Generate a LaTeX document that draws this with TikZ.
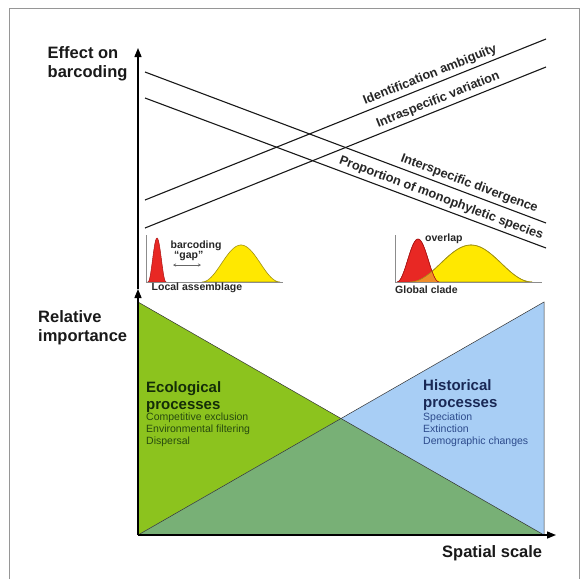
\documentclass[tikz,border=0pt]{standalone}
\usepackage{fontspec}
\setmainfont{Liberation Sans}
\usetikzlibrary{arrows.meta,positioning}
\definecolor{ecogreen}{RGB}{140,195,30}
\definecolor{histblue}{RGB}{168,206,245}
\definecolor{mixgreen}{RGB}{120,176,118}
\definecolor{ecotext}{RGB}{20,45,8}
\definecolor{ecosubtext}{RGB}{40,75,15}
\definecolor{histtext}{RGB}{25,40,85}
\definecolor{histsubtext}{RGB}{45,75,140}
\definecolor{peakred}{RGB}{232,40,36}
\definecolor{peakredline}{RGB}{170,20,20}
\definecolor{bumpyellow}{RGB}{255,232,0}
\definecolor{bumpline}{RGB}{160,145,20}
\definecolor{overorange}{RGB}{240,140,40}
\definecolor{framegray}{RGB}{150,150,150}
% cosine bump: centre, half width, height, baseline
\newcommand{\bellpath}[4]{plot[domain=#1-#2:#1+#2,samples=60]
  (\x,{#4-#3*(1+cos(180*(\x-#1)/#2))/2})}
\tikzset{
  >={Triangle[length=9pt,width=7pt]},
  axis/.style={->,line width=1.4pt,black},
  trend/.style={line width=1.1pt,black!90},
  trendlbl/.style={sloped,anchor=south,inner sep=3.2pt,
    font=\fontsize{12.7}{14}\selectfont\bfseries,text=black!85},
  axlbl/.style={anchor=north west,inner sep=0pt,align=left,
    font=\fontsize{16.5}{19.5}\selectfont\bfseries,text=black!90},
  prochead/.style={anchor=north west,inner sep=0pt,align=left,
    font=\fontsize{15}{17}\selectfont\bfseries},
  procsub/.style={anchor=north west,inner sep=0pt,align=left,
    font=\fontsize{10.5}{12}\selectfont},
  inlbl/.style={anchor=base west,inner sep=0pt,
    font=\fontsize{10.5}{12}\selectfont\bfseries,text=black!85},
  inaxis/.style={line width=0.6pt,black!45},
  redpeak/.style={fill=peakred,draw=peakredline,line width=0.5pt},
  yelbump/.style={fill=bumpyellow,draw=bumpline,line width=0.6pt},
  triedge/.style={line width=0.5pt,black!80},
}
\begin{document}
\begin{tikzpicture}[x=1pt,y=-1pt]
  \fill[white] (0,0) rectangle (588,579);
  \useasboundingbox (0,0) rectangle (588,579);
  \draw[framegray,line width=0.8pt] (9,579) -- (9,8) -- (579,8) -- (579,579);

  % axes points
  \coordinate (O) at (138,535);
  \coordinate (M) at (138,289);
  \coordinate (T) at (138,48);
  \coordinate (X) at (556,535);
  \coordinate (cross) at (341,418.5);
  \coordinate (gtop) at (138,302);
  \coordinate (btop) at (544,302);
  \coordinate (bbot) at (544,535);

  % lower panel: relative importance
  \fill[ecogreen] (gtop) -- (O) -- (bbot) -- cycle;
  \fill[histblue] (btop) -- (bbot) -- (O) -- cycle;
  \fill[mixgreen] (O) -- (cross) -- (bbot) -- cycle;
  \draw[triedge] (gtop) -- (bbot);
  \draw[triedge] (O) -- (btop) -- (bbot);

  \node[prochead,text=ecotext] (ecohead) at (146,381) {Ecological\\processes};
  \node[procsub,text=ecosubtext] (ecosub) at (146,412.5)
    {Competitive exclusion\\Environmental filtering\\Dispersal};
  \node[prochead,text=histtext] (histhead) at (423,379) {Historical\\processes};
  \node[procsub,text=histsubtext] (histsub) at (423,412.5)
    {Speciation\\Extinction\\Demographic changes};

  % upper panel: trends
  \coordinate (ia0) at (145,200); \coordinate (ia1) at (546,39);
  \coordinate (iv0) at (145,228); \coordinate (iv1) at (546,67);
  \coordinate (id0) at (145,72);  \coordinate (id1) at (546,223);
  \coordinate (pm0) at (145,98);  \coordinate (pm1) at (546,248);
  \draw[trend] (ia0) -- node[trendlbl,pos=0.72] (ialbl) {Identification ambiguity} (ia1);
  \draw[trend] (iv0) -- node[trendlbl,pos=0.74] (ivlbl) {Intraspecific variation} (iv1);
  \draw[trend] (id0) -- node[trendlbl,pos=0.80] (idlbl) {Interspecific divergence} (id1);
  \draw[trend] (pm0) -- node[trendlbl,pos=0.73] (pmlbl) {Proportion of monophyletic species} (pm1);

  % left inset: local assemblage
  \fill[yelbump] \bellpath{241}{39}{37}{282} -- cycle;
  \fill[redpeak] \bellpath{157}{9}{44}{282} -- cycle;
  \draw[inaxis] (146,235) -- (146,282) -- (283,282);
  \node[inlbl] (barcode) at (170.5,248.3) {barcoding};
  \node[inlbl] (gap) at (174,258) {“gap”};
  \coordinate (gapl) at (173,265);
  \coordinate (gapr) at (201,265);
  \draw[{Stealth[length=3pt,width=3pt]}-{Stealth[length=3pt,width=3pt]},black!60,line width=0.6pt] (gapl) -- (gapr);
  \node[inlbl] (local) at (151.5,290.7) {Local assemblage};

  % right inset: global clade
  \fill[yelbump] \bellpath{471}{61}{37}{282} -- cycle;
  \fill[redpeak] \bellpath{418}{21}{43}{282} -- cycle;
  \begin{scope}
    \clip \bellpath{471}{61}{37}{282} -- cycle;
    \fill[overorange] \bellpath{418}{21}{43}{282} -- cycle;
  \end{scope}
  \draw[draw=bumpline,line width=0.6pt] \bellpath{471}{61}{37}{282};
  \draw[draw=peakredline,line width=0.5pt] \bellpath{418}{21}{43}{282};
  \draw[inaxis] (395,235) -- (395,282) -- (542,282);
  \node[inlbl] (overlap) at (425,241.7) {overlap};
  \node[inlbl] (global) at (395,293) {Global clade};

  % axes
  \draw[axis] (O) -- (M);
  \draw[axis] (M) -- (T);
  \draw[axis] (O) -- (X);
  \node[axlbl] (effect) at (47.5,46) {Effect on\\barcoding};
  \node[axlbl] (relimp) at (38,310) {Relative\\importance};
  \node[anchor=base west,inner sep=0pt,font=\fontsize{16.5}{19.5}\selectfont\bfseries,
    text=black!90] (spatial) at (442,557) {Spatial scale};
\end{tikzpicture}
\end{document}
